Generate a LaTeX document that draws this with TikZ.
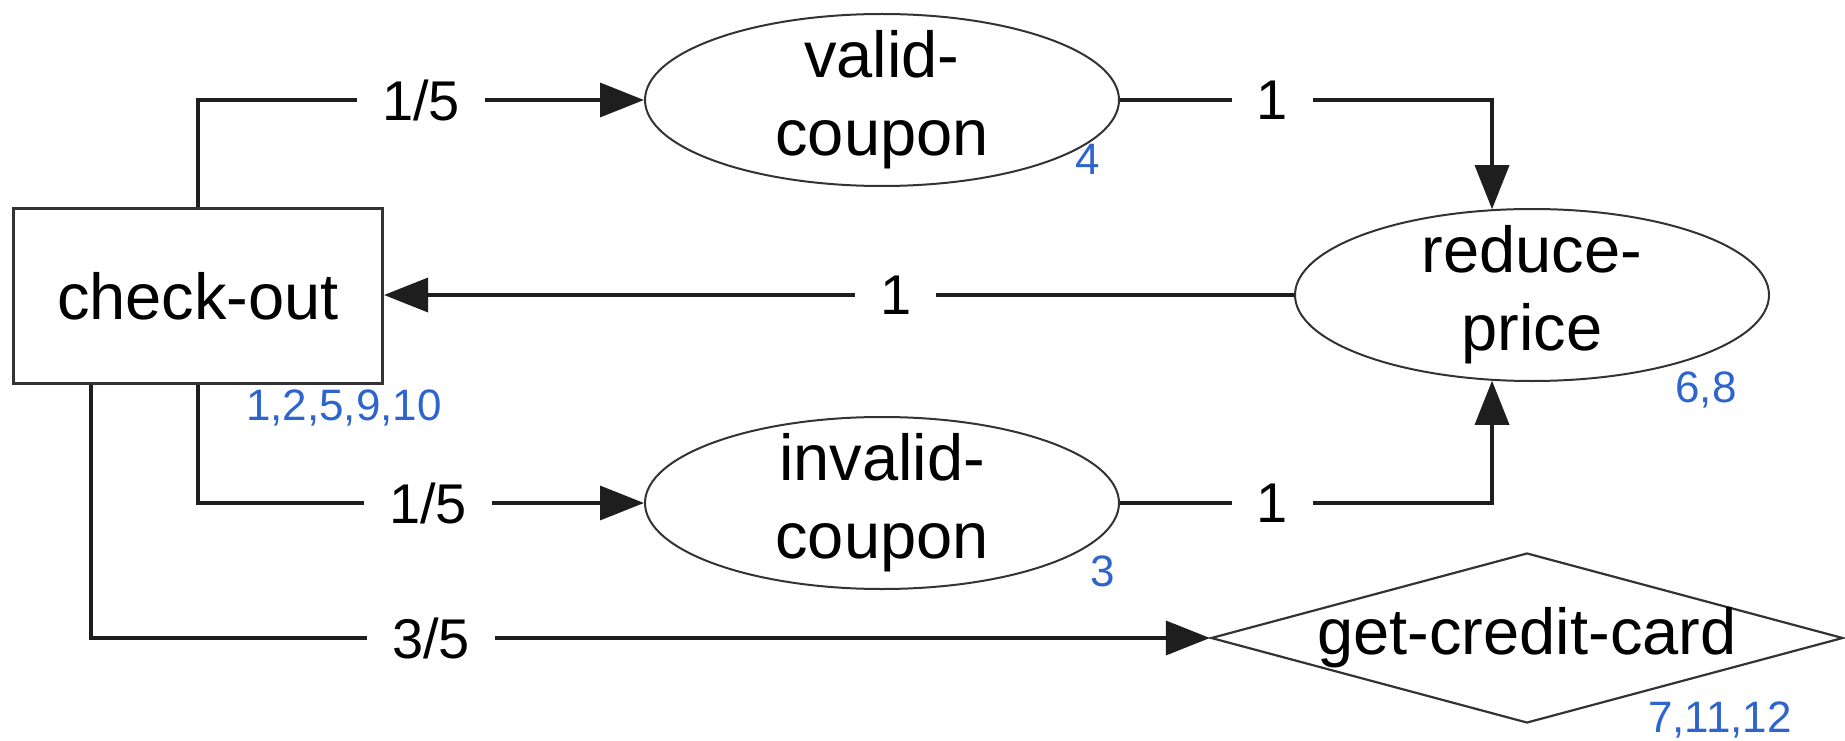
\documentclass[tikz,border=0pt]{standalone}
\usepackage{fontspec}
\setmainfont{Liberation Sans}
\usetikzlibrary{arrows.meta,shapes.geometric,calc}
\definecolor{numblue}{RGB}{45,100,205}
\definecolor{linegray}{RGB}{30,30,30}
\begin{document}
\begin{tikzpicture}[x=1pt,y=-1pt,
  conn/.style={line width=3.5pt, draw=linegray, line join=miter},
  arr/.style={-{Triangle[length=44pt,width=34pt]}},
  boxnode/.style={rectangle, draw=black!80, line width=3pt, inner sep=0pt,
    minimum width=369pt, minimum height=175pt, font=\fontsize{65}{78}\selectfont},
  ellnode/.style={ellipse, draw=black!80, line width=2pt, inner sep=0pt,
    minimum width=474pt, minimum height=172pt},
  dianode/.style={diamond, draw=black!80, line width=2.2pt, inner sep=0pt,
    minimum width=632pt, minimum height=170pt},
  ntext/.style={font=\fontsize{65}{78}\selectfont, align=center, inner sep=0pt},
  elabel/.style={font=\fontsize{56}{60}\selectfont, fill=white, inner xsep=25pt, inner ysep=2pt},
  numlbl/.style={font=\fontsize{44}{48}\selectfont, text=numblue, inner sep=0pt, anchor=base}
]
\useasboundingbox (0,0) rectangle (1845,741);

% nodes
\node[boxnode] (co) at (198,296) {check-out};
\node[ellnode] (vc) at (882,100) {};
\node[ntext] (vct) at (vc) {valid-\\coupon};
\node[ellnode] (rp) at (1532,295) {};
\node[ntext] (rpt) at (rp) {reduce-\\price};
\node[ellnode] (ic) at (882,503) {};
\node[ntext] (ict) at (ic) {invalid-\\coupon};
\node[dianode] (gc) at (1527,638) {};
\node[ntext] (gct) at (gc) {get-credit-card};

% blue numbers
\node[numlbl] (n1) at (344,420) {1,2,5,9,10};
\node[numlbl] (n2) at (1088,175) {4};
\node[numlbl] (n3) at (1706,402) {6,8};
\node[numlbl] (n4) at (1103,586) {3};
\node[numlbl] (n5) at (1720,732) {7,11,12};

% connectors
\draw[conn,arr] (co.north) |- node[elabel,pos=0.75] {1/5} (vc.west);
\draw[conn,arr] (vc.east) -| node[elabel,pos=0.2045] {1} (rp.115);
\draw[conn,arr] (rp.west) -- node[elabel,pos=0.4376] {1} (co.east |- rp.west);
\draw[conn,arr] (co.south) |- node[elabel,pos=0.758] {1/5} (ic.west);
\draw[conn,arr] (ic.east) -| node[elabel,pos=0.2045] {1} (rp.-115);
\coordinate (cosw) at ($(co.south west)+(79,0)$);
\draw[conn,arr] (cosw) |- node[elabel,pos=0.652] {3/5} (gc.west);
\end{tikzpicture}
\end{document}
